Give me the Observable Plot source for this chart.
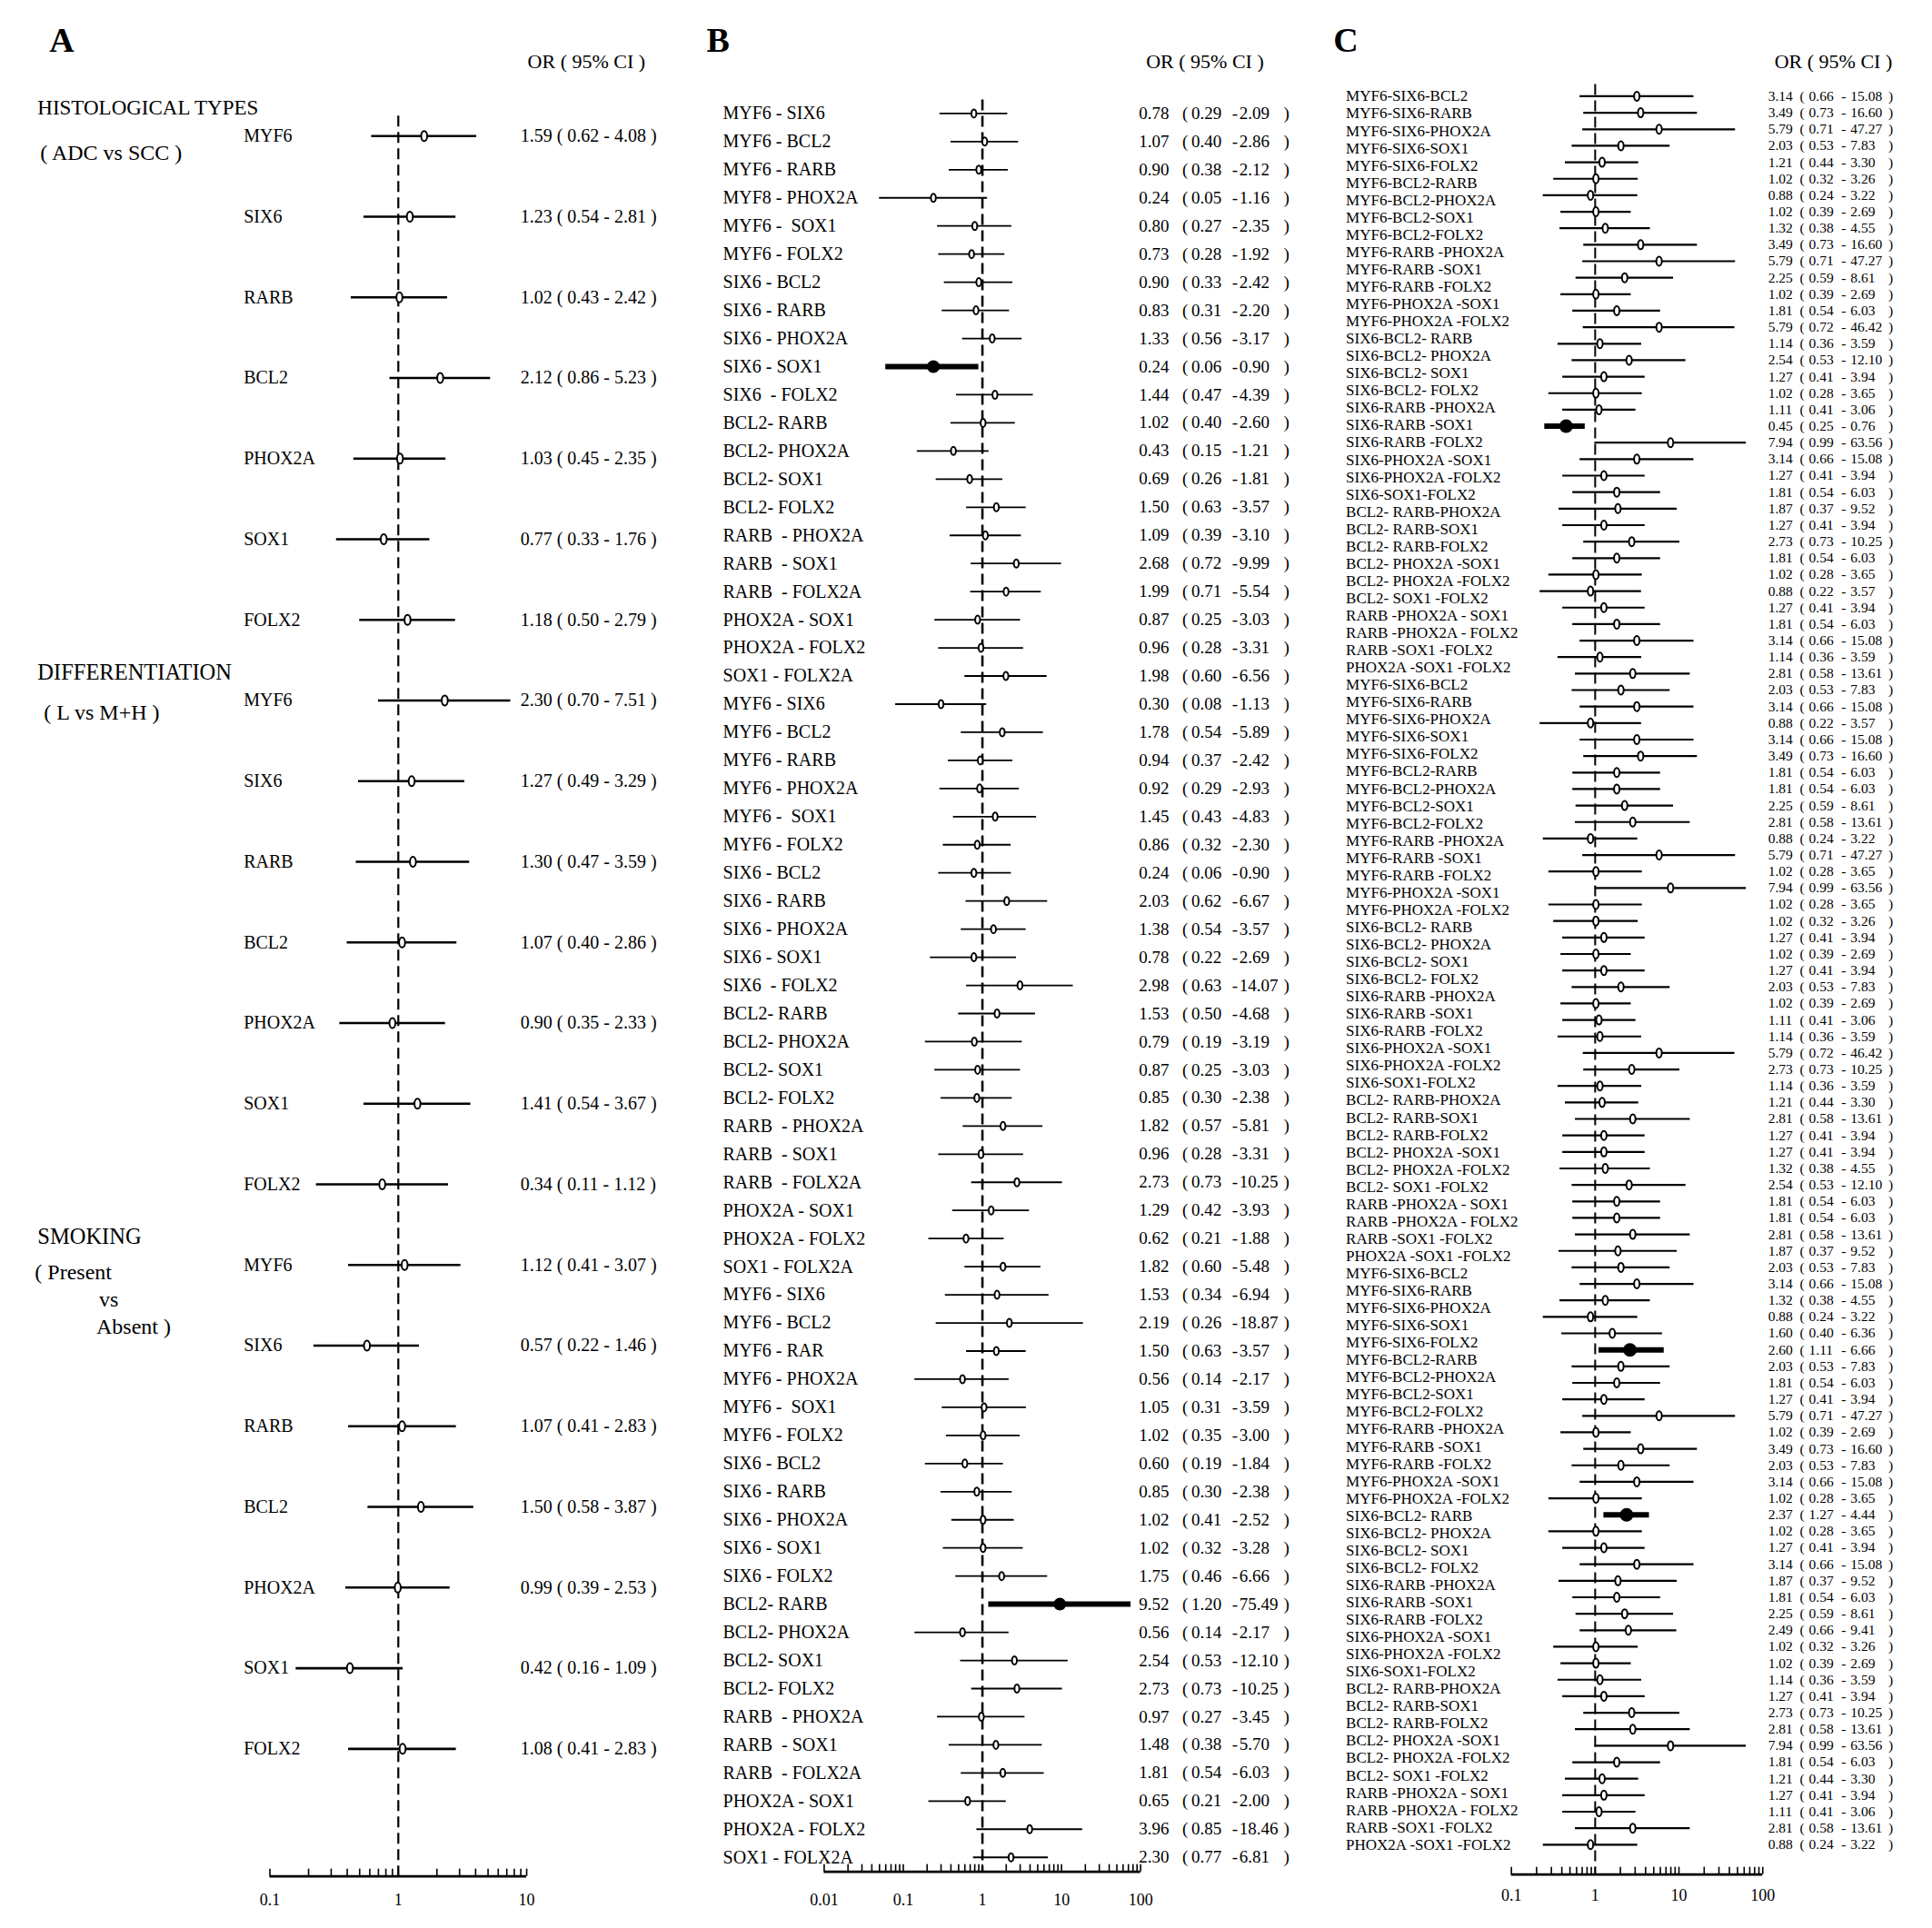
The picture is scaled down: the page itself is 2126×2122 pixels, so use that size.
<!DOCTYPE html>
<html><head><meta charset="utf-8">
<script src="https://cdn.jsdelivr.net/npm/d3@7"></script>
<script src="https://cdn.jsdelivr.net/npm/@observablehq/plot@0.6"></script>
<style>
html,body{margin:0;padding:0;background:#fff;}
#chart{position:relative;width:2126px;height:2122px;background:#fff;overflow:hidden;}
#chart > svg{position:absolute;top:0;}
</style></head><body><div id="chart"></div>
<script>
// ================= DATA =================
// Panel A
const genesA = ["MYF6","SIX6","RARB","BCL2","PHOX2A","SOX1","FOLX2"];
const groupTitlesA = ["HISTOLOGICAL TYPES","DIFFERENTIATION","SMOKING"];
const groupNotesA = [["( ADC vs SCC )"],["( L vs M+H )"],["( Present","vs","Absent )"]];
const orA = [1.59,1.23,1.02,2.12,1.03,0.77,1.18, 2.30,1.27,1.30,1.07,0.90,1.41,0.34, 1.12,0.57,1.07,1.50,0.99,0.42,1.08];
const loA = [0.62,0.54,0.43,0.86,0.45,0.33,0.50, 0.70,0.49,0.47,0.40,0.35,0.54,0.11, 0.41,0.22,0.41,0.58,0.39,0.16,0.41];
const hiA = [4.08,2.81,2.42,5.23,2.35,1.76,2.79, 7.51,3.29,3.59,2.86,2.33,3.67,1.12, 3.07,1.46,2.83,3.87,2.53,1.09,2.83];
// rows whose drawn interval differs from the printed one
const drawnA = {13: [0.75, 0.23, 2.46]};

// Panel B
const labelsB = [
 "MYF6 - SIX6","MYF6 - BCL2","MYF6 - RARB","MYF8 - PHOX2A","MYF6 -  SOX1","MYF6 - FOLX2","SIX6 - BCL2","SIX6 - RARB","SIX6 - PHOX2A","SIX6 - SOX1","SIX6  - FOLX2","BCL2- RARB","BCL2- PHOX2A","BCL2- SOX1","BCL2- FOLX2","RARB  - PHOX2A","RARB  - SOX1","RARB  - FOLX2A","PHOX2A - SOX1","PHOX2A - FOLX2","SOX1 - FOLX2A",
 "MYF6 - SIX6","MYF6 - BCL2","MYF6 - RARB","MYF6 - PHOX2A","MYF6 -  SOX1","MYF6 - FOLX2","SIX6 - BCL2","SIX6 - RARB","SIX6 - PHOX2A","SIX6 - SOX1","SIX6  - FOLX2","BCL2- RARB","BCL2- PHOX2A","BCL2- SOX1","BCL2- FOLX2","RARB  - PHOX2A","RARB  - SOX1","RARB  - FOLX2A","PHOX2A - SOX1","PHOX2A - FOLX2","SOX1 - FOLX2A",
 "MYF6 - SIX6","MYF6 - BCL2","MYF6 - RAR","MYF6 - PHOX2A","MYF6 -  SOX1","MYF6 - FOLX2","SIX6 - BCL2","SIX6 - RARB","SIX6 - PHOX2A","SIX6 - SOX1","SIX6 - FOLX2","BCL2- RARB","BCL2- PHOX2A","BCL2- SOX1","BCL2- FOLX2","RARB  - PHOX2A","RARB  - SOX1","RARB  - FOLX2A","PHOX2A - SOX1","PHOX2A - FOLX2","SOX1 - FOLX2A"];
const orB = [0.78,1.07,0.90,0.24,0.80,0.73,0.90,0.83,1.33,0.24,1.44,1.02,0.43,0.69,1.50,1.09,2.68,1.99,0.87,0.96,1.98,
 0.30,1.78,0.94,0.92,1.45,0.86,0.24,2.03,1.38,0.78,2.98,1.53,0.79,0.87,0.85,1.82,0.96,2.73,1.29,0.62,1.82,
 1.53,2.19,1.50,0.56,1.05,1.02,0.60,0.85,1.02,1.02,1.75,9.52,0.56,2.54,2.73,0.97,1.48,1.81,0.65,3.96,2.30];
const loB = [0.29,0.40,0.38,0.05,0.27,0.28,0.33,0.31,0.56,0.06,0.47,0.40,0.15,0.26,0.63,0.39,0.72,0.71,0.25,0.28,0.60,
 0.08,0.54,0.37,0.29,0.43,0.32,0.06,0.62,0.54,0.22,0.63,0.50,0.19,0.25,0.30,0.57,0.28,0.73,0.42,0.21,0.60,
 0.34,0.26,0.63,0.14,0.31,0.35,0.19,0.30,0.41,0.32,0.46,1.20,0.14,0.53,0.73,0.27,0.38,0.54,0.21,0.85,0.77];
const hiB = [2.09,2.86,2.12,1.16,2.35,1.92,2.42,2.20,3.17,0.90,4.39,2.60,1.21,1.81,3.57,3.10,9.99,5.54,3.03,3.31,6.56,
 1.13,5.89,2.42,2.93,4.83,2.30,0.90,6.67,3.57,2.69,14.07,4.68,3.19,3.03,2.38,5.81,3.31,10.25,3.93,1.88,5.48,
 6.94,18.87,3.57,2.17,3.59,3.00,1.84,2.38,2.52,3.28,6.66,75.49,2.17,12.10,10.25,3.45,5.70,6.03,2.00,18.46,6.81];
const drawnB = {27: [0.78, 0.28, 2.32]};

// Panel C
const combosC = ["MYF6-SIX6-BCL2","MYF6-SIX6-RARB","MYF6-SIX6-PHOX2A","MYF6-SIX6-SOX1","MYF6-SIX6-FOLX2",
 "MYF6-BCL2-RARB","MYF6-BCL2-PHOX2A","MYF6-BCL2-SOX1","MYF6-BCL2-FOLX2",
 "MYF6-RARB -PHOX2A","MYF6-RARB -SOX1","MYF6-RARB -FOLX2","MYF6-PHOX2A -SOX1","MYF6-PHOX2A -FOLX2",
 "SIX6-BCL2- RARB","SIX6-BCL2- PHOX2A","SIX6-BCL2- SOX1","SIX6-BCL2- FOLX2",
 "SIX6-RARB -PHOX2A","SIX6-RARB -SOX1","SIX6-RARB -FOLX2","SIX6-PHOX2A -SOX1","SIX6-PHOX2A -FOLX2","SIX6-SOX1-FOLX2",
 "BCL2- RARB-PHOX2A","BCL2- RARB-SOX1","BCL2- RARB-FOLX2","BCL2- PHOX2A -SOX1","BCL2- PHOX2A -FOLX2","BCL2- SOX1 -FOLX2",
 "RARB -PHOX2A - SOX1","RARB -PHOX2A - FOLX2","RARB -SOX1 -FOLX2","PHOX2A -SOX1 -FOLX2"];
const labelsC = [...combosC, ...combosC, ...combosC];
const orC = [3.14,3.49,5.79,2.03,1.21,1.02,0.88,1.02,1.32,3.49, 5.79,2.25,1.02,1.81,5.79,1.14,2.54,1.27,1.02,1.11,
 0.45,7.94,3.14,1.27,1.81,1.87,1.27,2.73,1.81,1.02, 0.88,1.27,1.81,3.14,1.14,2.81,2.03,3.14,0.88,3.14,
 3.49,1.81,1.81,2.25,2.81,0.88,5.79,1.02,7.94,1.02, 1.02,1.27,1.02,1.27,2.03,1.02,1.11,1.14,5.79,2.73,
 1.14,1.21,2.81,1.27,1.27,1.32,2.54,1.81,1.81,2.81, 1.87,2.03,3.14,1.32,0.88,1.60,2.60,2.03,1.81,1.27,
 5.79,1.02,3.49,2.03,3.14,1.02,2.37,1.02,1.27,3.14, 1.87,1.81,2.25,2.49,1.02,1.02,1.14,1.27,2.73,2.81,
 7.94,1.81,1.21,1.27,1.11,2.81,0.88];
const loC = [0.66,0.73,0.71,0.53,0.44,0.32,0.24,0.39,0.38,0.73, 0.71,0.59,0.39,0.54,0.72,0.36,0.53,0.41,0.28,0.41,
 0.25,0.99,0.66,0.41,0.54,0.37,0.41,0.73,0.54,0.28, 0.22,0.41,0.54,0.66,0.36,0.58,0.53,0.66,0.22,0.66,
 0.73,0.54,0.54,0.59,0.58,0.24,0.71,0.28,0.99,0.28, 0.32,0.41,0.39,0.41,0.53,0.39,0.41,0.36,0.72,0.73,
 0.36,0.44,0.58,0.41,0.41,0.38,0.53,0.54,0.54,0.58, 0.37,0.53,0.66,0.38,0.24,0.40,1.11,0.53,0.54,0.41,
 0.71,0.39,0.73,0.53,0.66,0.28,1.27,0.28,0.41,0.66, 0.37,0.54,0.59,0.66,0.32,0.39,0.36,0.41,0.73,0.58,
 0.99,0.54,0.44,0.41,0.41,0.58,0.24];
const hiC = [15.08,16.60,47.27,7.83,3.30,3.26,3.22,2.69,4.55,16.60, 47.27,8.61,2.69,6.03,46.42,3.59,12.10,3.94,3.65,3.06,
 0.76,63.56,15.08,3.94,6.03,9.52,3.94,10.25,6.03,3.65, 3.57,3.94,6.03,15.08,3.59,13.61,7.83,15.08,3.57,15.08,
 16.60,6.03,6.03,8.61,13.61,3.22,47.27,3.65,63.56,3.65, 3.26,3.94,2.69,3.94,7.83,2.69,3.06,3.59,46.42,10.25,
 3.59,3.30,13.61,3.94,3.94,4.55,12.10,6.03,6.03,13.61, 9.52,7.83,15.08,4.55,3.22,6.36,6.66,7.83,6.03,3.94,
 47.27,2.69,16.60,7.83,15.08,3.65,4.44,3.65,3.94,15.08, 9.52,6.03,8.61,9.41,3.26,2.69,3.59,3.94,10.25,13.61,
 63.56,6.03,3.30,3.94,3.06,13.61,3.22];

// Axis tick labels and headings
const ticksA = ["0.1","1","10"];
const ticksB = ["0.01","0.1","1","10","100"];
const ticksC = ["0.1","1","10","100"];
const colHead = "OR ( 95% CI )";
const panelTags = ["A","B","C"];

// ================= DRAWING =================
const FONT = "Liberation Serif, Times New Roman, serif";
const S = 0.995;               // layout fine-scaling
const P = v => v * S;
const f2 = v => v.toFixed(2);
const ellipse = {draw(ctx, size) {
  const r = Math.sqrt(size / Math.PI), rx = r * 0.6, ry = r, k = 0.5523;
  ctx.moveTo(rx, 0);
  ctx.bezierCurveTo(rx, ry * k, rx * k, ry, 0, ry);
  ctx.bezierCurveTo(-rx * k, ry, -rx, ry * k, -rx, 0);
  ctx.bezierCurveTo(-rx, -ry * k, -rx * k, -ry, 0, -ry);
  ctx.bezierCurveTo(rx * k, -ry, rx, -ry * k, rx, 0);
  ctx.closePath();
}};

function forest(c) {
  const xPx = c.xPx.map(P), yPx = c.yPx.map(P);
  const L0 = Math.log10(c.domain[0]), L1 = Math.log10(c.domain[1]);
  const xv = gx => Math.pow(10, L0 + (P(gx) - xPx[0]) / (xPx[1] - xPx[0]) * (L1 - L0));
  const step = (yPx[1] - yPx[0]) / (c.n - 1);
  const yr = gy => (P(gy) - yPx[0]) / step;
  const axisRow = yr(c.axisPx);
  const rows = c.or.map((or, i) => {
    const d = (c.drawn && c.drawn[i]) || [or, c.lo[i], c.hi[i]];
    return {i, or, lo: c.lo[i], hi: c.hi[i], por: d[0], plo: d[1], phi: d[2], sig: d[1] > 1 || d[2] < 1};
  });
  const minor = [];
  for (let e = Math.round(L0); e < Math.round(L1); e++) for (let m = 1; m < 10; m++) minor.push(m * Math.pow(10, e));
  minor.push(c.domain[1]);
  const T = {fontFamily: FONT, fill: "black", stroke: "none", lineAnchor: "middle"};
  const labRow = (c.n - 1) / (c.labels.length - 1);
  const marks = [
    Plot.ruleX([1], {y1: yr(c.dashTopPx), y2: axisRow, stroke: "black", strokeWidth: c.dashW, strokeDasharray: "12,6"}),
    Plot.ruleY(rows, {y: "i", x1: "plo", x2: "phi", stroke: "black", strokeWidth: d => d.sig ? c.boldW : c.lineW}),
    Plot.dot(rows.filter(d => !d.sig), {x: "por", y: "i", r: c.dotR, symbol: ellipse, fill: "white", stroke: "black", strokeWidth: 2}),
    Plot.dot(rows.filter(d => d.sig), {x: "por", y: "i", r: c.boldR, fill: "black", stroke: "none"}),
    Plot.ruleY([axisRow], {x1: c.domain[0], x2: c.domain[1], stroke: "black", strokeWidth: 2.6}),
    Plot.ruleX(minor, {x: d => d, y1: axisRow, y2: axisRow - 8 / step, stroke: "black", strokeWidth: 1.6}),
    Plot.text(c.ticks, {x: d => +d, y: yr(c.tickPx), text: d => d, fontSize: 18, textAnchor: "middle", ...T}),
    Plot.text([c.tag], {x: xv(c.tagX), y: yr(45), text: d => d, fontSize: 38, fontWeight: "bold", textAnchor: "start", ...T}),
    Plot.text([colHead], {x: xv(c.headX), y: yr(68), text: d => d, fontSize: 22, textAnchor: "start", ...T}),
    Plot.text(c.labels, {x: xv(c.labelX), y: (d, j) => j * labRow, text: d => d, fontSize: c.labelSize, textAnchor: "start", ...T})
  ];
  for (const p of c.valueParts) {
    marks.push(Plot.text(rows, {x: xv(p.gx), y: "i", text: p.text, fontSize: c.valueSize, textAnchor: "start", ...T}));
  }
  if (c.extra) marks.push(...c.extra(xv, T));
  const svg = Plot.plot({
    width: c.width, height: 2122,
    marginLeft: xPx[0] - c.left, marginRight: c.left + c.width - xPx[1], marginTop: 0, marginBottom: 0,
    x: {type: "log", domain: c.domain, axis: null},
    y: {type: "linear", domain: [0, c.n - 1], range: yPx, axis: null},
    style: {background: "white", fontFamily: FONT, overflow: "visible"},
    marks
  });
  svg.style.left = c.left + "px";
  document.getElementById("chart").appendChild(svg);
}

// ---- Panel A ----
const labelsA = groupTitlesA.flatMap(() => genesA);
const titleSizeA = [23, 24.5, 24.5];
const noteLayoutA = [[[44, 0.21]], [[48, 0.15]], [[38, 0.09], [109, 0.43], [106, 0.77]]];
forest({
  left: 0, width: 760, xPx: [298, 582], domain: [0.1, 10],
  n: 21, yPx: [150, 1934], axisPx: 2075, tickPx: 2101, dashTopPx: 128,
  or: orA, lo: loA, hi: hiA, drawn: drawnA,
  lineW: 2.6, boldW: 6, dotR: 5.5, boldR: 7, dashW: 2.2,
  ticks: ticksA, tag: panelTags[0], tagX: 54, headX: 583,
  labels: labelsA, labelX: 269, labelSize: 20,
  valueSize: 20,
  valueParts: [{gx: 575, text: d => `${f2(d.or)} ( ${f2(d.lo)} - ${f2(d.hi)} )`}],
  extra: (xv, T) => {
    const m = [];
    groupTitlesA.forEach((t, g) => {
      m.push(Plot.text([t], {x: xv(41), y: 7 * g - 0.35, text: d => d, fontSize: titleSizeA[g], textAnchor: "start", ...T}));
      groupNotesA[g].forEach((s, k) => {
        const [gx, off] = noteLayoutA[g][k];
        m.push(Plot.text([s], {x: xv(gx), y: 7 * g + off, text: d => d, fontSize: 24, textAnchor: "start", ...T}));
      });
    });
    return m;
  }
});

// ---- Panel B ----
forest({
  left: 760, width: 720, xPx: [911, 1261], domain: [0.01, 100],
  n: 63, yPx: [125, 2054], axisPx: 2070, tickPx: 2101, dashTopPx: 110,
  or: orB, lo: loB, hi: hiB, drawn: drawnB,
  lineW: 1.8, boldW: 6, dotR: 4.5, boldR: 7, dashW: 2.6,
  ticks: ticksB, tag: panelTags[1], tagX: 781, headX: 1267,
  labels: labelsB, labelX: 799, labelSize: 20,
  valueSize: 19,
  valueParts: [
    {gx: 1259, text: d => f2(d.or)}, {gx: 1307, text: () => "("}, {gx: 1317, text: d => f2(d.lo)},
    {gx: 1362, text: () => "-"}, {gx: 1370, text: d => f2(d.hi)}, {gx: 1419, text: () => ")"}
  ]
});

// ---- Panel C ----
forest({
  left: 1480, width: 646, xPx: [1671, 1949], domain: [0.1, 100],
  n: 107, yPx: [106, 2040], axisPx: 2073, tickPx: 2096, dashTopPx: 93,
  or: orC, lo: loC, hi: hiC,
  lineW: 2.2, boldW: 6, dotR: 5, boldR: 7.5, dashW: 2,
  ticks: ticksC, tag: panelTags[2], tagX: 1474, headX: 1962,
  labels: labelsC, labelX: 1488, labelSize: 17,
  valueSize: 15.5,
  valueParts: [
    {gx: 1955, text: d => f2(d.or)}, {gx: 1990, text: () => "("}, {gx: 2000, text: d => f2(d.lo)},
    {gx: 2036, text: () => "-"}, {gx: 2046, text: d => f2(d.hi)}, {gx: 2088, text: () => ")"}
  ]
});
</script></body></html>
